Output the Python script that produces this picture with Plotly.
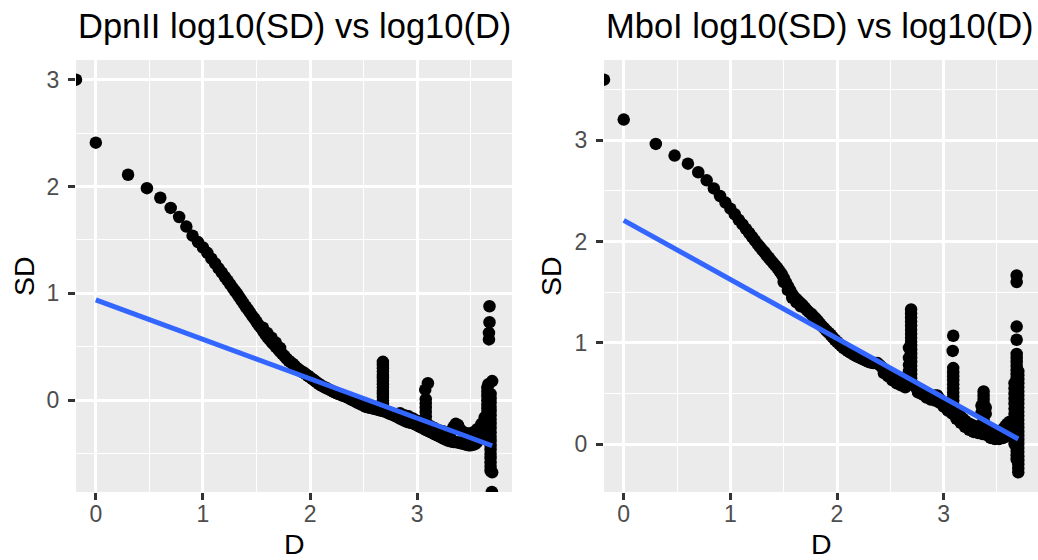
import plotly.graph_objects as go

NEG_INF = float("-inf")

# ---------------- data: DpnII (log10 D, log10 SD) ----------------
dpn_sparse_x = [NEG_INF, 0.000, 0.301, 0.477, 0.602, 0.699, 0.778, 0.845, 0.903, 0.954,
                1.000, 1.041, 1.079, 1.114, 1.146, 1.176, 1.204, 1.230, 1.255, 1.279, 1.301]
dpn_sparse_y = [3.00, 2.41, 2.11, 1.985, 1.895, 1.80, 1.715, 1.625, 1.54, 1.48,
                1.43, 1.38, 1.325, 1.28, 1.235, 1.195, 1.155, 1.12, 1.085, 1.05, 1.02]

dpn_band_x = [1.32, 1.34, 1.36, 1.38, 1.40, 1.42, 1.44, 1.46, 1.48, 1.50, 1.52, 1.54, 1.56, 1.58,
              1.60, 1.62, 1.64, 1.66, 1.68, 1.70, 1.72, 1.74, 1.76, 1.78, 1.80, 1.82, 1.84, 1.86,
              1.88, 1.90, 1.92, 1.94, 1.96, 1.98, 2.00, 2.02, 2.04, 2.06, 2.08, 2.10, 2.12, 2.14,
              2.16, 2.18, 2.20, 2.22, 2.24, 2.26, 2.28, 2.30, 2.32, 2.34, 2.36, 2.38, 2.40, 2.42,
              2.44, 2.46, 2.48, 2.50, 2.52, 2.54, 2.56, 2.58, 2.60, 2.62, 2.64, 2.66, 2.68, 2.70,
              2.72, 2.74, 2.76, 2.78, 2.80, 2.82, 2.84, 2.86, 2.88, 2.90, 2.92, 2.94, 2.96, 2.98,
              3.00, 3.02, 3.04, 3.06, 3.08, 3.10, 3.12, 3.14, 3.16, 3.18, 3.20, 3.22, 3.24, 3.26,
              3.28, 3.30, 3.32, 3.34, 3.36, 3.38, 3.40, 3.42, 3.44, 3.46, 3.48, 3.50, 3.52, 3.54,
              3.56, 3.58, 3.60, 3.62]
dpn_band_y = [0.995, 0.965, 0.935, 0.905, 0.875, 0.85, 0.82, 0.79, 0.765, 0.735, 0.705, 0.68, 0.65, 0.62,
              0.595, 0.57, 0.545, 0.525, 0.50, 0.48, 0.455, 0.435, 0.415, 0.39, 0.37, 0.355, 0.34, 0.32,
              0.30, 0.285, 0.27, 0.26, 0.245, 0.23, 0.215, 0.20, 0.185, 0.17, 0.155, 0.14, 0.13, 0.12,
              0.11, 0.10, 0.09, 0.08, 0.07, 0.06, 0.055, 0.045, 0.04, 0.03, 0.02, 0.01, 0.0, -0.01,
              -0.02, -0.03, -0.04, -0.05, -0.06, -0.065, -0.07, -0.075, -0.08, -0.085, -0.09, -0.095, -0.10, -0.105,
              -0.115, -0.125, -0.13, -0.14, -0.15, -0.16, -0.17, -0.18, -0.19, -0.20, -0.205, -0.21, -0.215, -0.225,
              -0.235, -0.245, -0.255, -0.265, -0.275, -0.285, -0.295, -0.305, -0.315, -0.325, -0.335, -0.345, -0.355, -0.365,
              -0.375, -0.38, -0.385, -0.39, -0.39, -0.395, -0.40, -0.405, -0.41, -0.415, -0.42, -0.42, -0.415, -0.41,
              -0.39, -0.36, -0.32, -0.28]

dpn_upper_x = [1.56, 1.60, 1.64, 1.68, 1.72, 2.84, 2.88, 2.92, 2.96, 3.00, 3.04, 3.08, 3.12, 3.16,
               3.20, 3.24, 3.28, 3.32, 3.34, 3.36, 3.38, 3.40, 3.44, 3.48, 3.52, 3.56, 3.60, 3.63]
dpn_upper_y = [0.68, 0.63, 0.585, 0.54, 0.49, -0.12, -0.14, -0.15, -0.17, -0.19, -0.21, -0.22, -0.24, -0.26,
               -0.28, -0.29, -0.30, -0.29, -0.25, -0.22, -0.23, -0.27, -0.30, -0.31, -0.30, -0.27, -0.22, -0.16]

dpn_spike_x = [2.68, 2.68, 2.68, 2.68, 2.68, 2.68, 2.68, 2.68, 2.68, 2.68, 2.68, 2.68, 2.68, 2.68, 2.68,
               3.10, 3.075, 3.08, 3.08, 3.08, 3.08, 3.08, 3.08]
dpn_spike_y = [0.36, 0.33, 0.30, 0.27, 0.24, 0.21, 0.18, 0.15, 0.12, 0.09, 0.06, 0.03, 0.0, -0.03, -0.06,
               0.16, 0.10, 0.01, -0.03, -0.07, -0.11, -0.15, -0.19]

dpn_column_x = [3.675, 3.675, 3.67, 3.67, 3.70, 3.665,
                3.655, 3.655, 3.655, 3.655, 3.655, 3.655, 3.655, 3.655, 3.655, 3.655, 3.655, 3.655, 3.655,
                3.685, 3.685, 3.685, 3.685, 3.685, 3.685, 3.685, 3.685, 3.685, 3.685, 3.685, 3.685, 3.685,
                3.685, 3.685, 3.685, 3.685, 3.685, 3.685, 3.70, 3.697]
dpn_column_y = [0.88, 0.73, 0.63, 0.57, 0.18, 0.15,
                0.12, 0.08, 0.04, 0.0, -0.04, -0.08, -0.12, -0.16, -0.20, -0.24, -0.28, -0.32, -0.36,
                0.06, 0.02, -0.02, -0.06, -0.10, -0.14, -0.18, -0.22, -0.26, -0.30, -0.34, -0.38, -0.42,
                -0.46, -0.50, -0.54, -0.58, -0.62, -0.66, -0.674, NEG_INF]

dpn_fit_x = [0.0, 3.70]
dpn_fit_y = [0.94, -0.425]

# ---------------- data: MboI (log10 D, log10 SD) ----------------
mbo_sparse_x = [NEG_INF, 0.000, 0.301, 0.477, 0.602, 0.699, 0.778, 0.845, 0.903, 0.954,
                1.000, 1.041, 1.079, 1.114, 1.146, 1.176, 1.204, 1.230, 1.255, 1.279, 1.301]
mbo_sparse_y = [3.60, 3.205, 2.965, 2.85, 2.77, 2.685, 2.605, 2.525, 2.45, 2.385,
                2.325, 2.27, 2.215, 2.17, 2.125, 2.085, 2.045, 2.01, 1.975, 1.945, 1.915]

mbo_band_x = dpn_band_x
mbo_band_y = [1.895, 1.865, 1.84, 1.815, 1.79, 1.765, 1.74, 1.71, 1.68, 1.64, 1.60, 1.56, 1.52, 1.48,
              1.45, 1.43, 1.41, 1.39, 1.37, 1.345, 1.32, 1.30, 1.285, 1.26, 1.24, 1.215, 1.19, 1.165,
              1.145, 1.12, 1.10, 1.08, 1.055, 1.03, 1.01, 0.99, 0.97, 0.95, 0.935, 0.92, 0.905, 0.895,
              0.88, 0.87, 0.86, 0.85, 0.84, 0.83, 0.82, 0.81, 0.805, 0.80, 0.80, 0.80, 0.78, 0.76,
              0.74, 0.72, 0.705, 0.69, 0.67, 0.655, 0.64, 0.625, 0.615, 0.60, 0.59, 0.60, 0.61, 0.60,
              0.58, 0.56, 0.55, 0.54, 0.53, 0.515, 0.50, 0.485, 0.47, 0.47, 0.48, 0.48, 0.45, 0.42,
              0.40, 0.38, 0.36, 0.35, 0.34, 0.33, 0.31, 0.29, 0.27, 0.25, 0.23, 0.21, 0.20, 0.19,
              0.18, 0.17, 0.16, 0.17, 0.19, 0.20, 0.18, 0.14, 0.11, 0.09, 0.08, 0.09, 0.11, 0.13,
              0.15, 0.18, 0.20, 0.22]

mbo_lower_x = [1.50, 1.54, 1.58, 1.62, 1.66, 2.44, 2.48, 2.52, 2.56, 2.60, 2.64, 2.76, 2.80, 2.84,
               2.88, 2.92, 2.96, 3.00, 3.04, 3.08, 3.12, 3.16, 3.20, 3.24, 3.28, 3.32, 3.36, 3.40,
               3.44, 3.48, 3.52, 3.56, 3.60]
mbo_lower_y = [1.60, 1.52, 1.445, 1.40, 1.36, 0.70, 0.67, 0.63, 0.60, 0.58, 0.56, 0.51, 0.49, 0.46,
               0.44, 0.43, 0.41, 0.37, 0.33, 0.30, 0.25, 0.21, 0.17, 0.14, 0.12, 0.11, 0.10, 0.09,
               0.06, 0.05, 0.05, 0.06, 0.08]

mbo_spike_x = [2.695, 2.695, 2.695, 2.695, 2.695, 2.695, 2.695, 2.695, 2.695, 2.695, 2.695, 2.695,
               2.695, 2.695, 2.695, 2.695, 2.695, 2.695, 2.675, 2.675, 2.675, 2.675,
               3.09, 3.085, 3.09, 3.09, 3.09, 3.09, 3.09, 3.09, 3.09, 3.09, 3.09, 3.09,
               3.375, 3.375, 3.375, 3.375, 3.375, 3.375, 3.375, 3.375, 3.355, 3.355, 3.395, 3.395]
mbo_spike_y = [1.33, 1.29, 1.25, 1.21, 1.17, 1.13, 1.09, 1.05, 1.01, 0.97, 0.93, 0.89,
               0.85, 0.81, 0.77, 0.73, 0.69, 0.65, 0.95, 0.85, 0.78, 0.72,
               1.07, 0.92, 0.75, 0.71, 0.67, 0.63, 0.59, 0.55, 0.51, 0.47, 0.43, 0.39,
               0.52, 0.48, 0.44, 0.40, 0.36, 0.32, 0.28, 0.24, 0.38, 0.31, 0.36, 0.30]

mbo_column_x = [3.685, 3.685, 3.685, 3.685,
                3.685, 3.685, 3.685, 3.685, 3.685, 3.685, 3.685, 3.685, 3.685, 3.685, 3.685, 3.685, 3.685, 3.685,
                3.685, 3.685, 3.685, 3.685, 3.685, 3.685, 3.685, 3.685, 3.685, 3.685, 3.685, 3.685, 3.685,
                3.70, 3.70, 3.70, 3.70, 3.70, 3.70, 3.70, 3.70, 3.70, 3.70, 3.70, 3.70, 3.70,
                3.70, 3.70, 3.70, 3.70, 3.70, 3.70, 3.70, 3.70, 3.70, 3.70, 3.70, 3.70, 3.70,
                3.665, 3.665, 3.665, 3.665, 3.665, 3.665, 3.665, 3.665, 3.665, 3.665, 3.665, 3.665, 3.665]
mbo_column_y = [1.665, 1.60, 1.16, 1.03,
                0.89, 0.85, 0.81, 0.77, 0.73, 0.69, 0.65, 0.61, 0.57, 0.53, 0.49, 0.45, 0.41, 0.37,
                0.33, 0.29, 0.25, 0.21, 0.17, 0.13, 0.09, 0.05, 0.01, -0.03, -0.07, -0.11, -0.15,
                0.72, 0.68, 0.64, 0.60, 0.56, 0.52, 0.48, 0.44, 0.40, 0.36, 0.32, 0.28, 0.24,
                0.20, 0.16, 0.12, 0.08, 0.04, 0.0, -0.04, -0.08, -0.12, -0.16, -0.20, -0.24, -0.28,
                0.60, 0.55, 0.50, 0.45, 0.40, 0.35, 0.30, 0.25, 0.20, 0.15, 0.10, 0.05, 0.0]

mbo_fit_x = [0.0, 3.70]
mbo_fit_y = [2.21, 0.05]

titles = ["DpnII log10(SD) vs log10(D)", "MboI log10(SD) vs log10(D)"]
x_label = "D"
y_label = "SD"
tick_vals = [0, 1, 2, 3]

# ---------------- helpers ----------------
def gg_range(vals, mult=0.05):
    finite = [v for v in vals if v not in (NEG_INF, float("inf"))]
    lo, hi = min(finite), max(finite)
    pad = (hi - lo) * mult
    return [lo - pad, hi + pad]


def squish(vals, rng):
    # non-finite values are drawn at the panel edge (as ggplot does)
    return [rng[0] if v == NEG_INF else v for v in vals]


panels = [
    dict(x=dpn_sparse_x + dpn_band_x + dpn_upper_x + dpn_spike_x + dpn_column_x,
         y=dpn_sparse_y + dpn_band_y + dpn_upper_y + dpn_spike_y + dpn_column_y,
         fx=dpn_fit_x, fy=dpn_fit_y),
    dict(x=mbo_sparse_x + mbo_band_x + mbo_lower_x + mbo_spike_x + mbo_column_x,
         y=mbo_sparse_y + mbo_band_y + mbo_lower_y + mbo_spike_y + mbo_column_y,
         fx=mbo_fit_x, fy=mbo_fit_y),
]

W, H = 1038, 560
FONT = "Liberation Sans, Arial, Helvetica, sans-serif"
x_domains = [[76 / W, 512 / W], [604 / W, 1.0]]
y_domain = [(H - 492) / H, (H - 60) / H]

fig = go.Figure()
layout = dict(
    width=W, height=H, margin=dict(l=0, r=0, t=0, b=0, autoexpand=False),
    paper_bgcolor="white", plot_bgcolor="#EBEBEB", showlegend=False,
    font=dict(family=FONT, color="black"),
)
annotations = []

for i, p in enumerate(panels):
    xr = gg_range(p["x"])
    yr = gg_range(p["y"])
    xs = squish(p["x"], xr)
    ys = squish(p["y"], yr)
    sfx = "" if i == 0 else str(i + 1)
    fig.add_trace(go.Scatter(
        x=xs, y=ys, mode="markers", xaxis="x" + sfx, yaxis="y" + sfx,
        marker=dict(color="black", size=12.5, line=dict(width=0)), cliponaxis=True,
        hoverinfo="skip"))
    fig.add_trace(go.Scatter(
        x=p["fx"], y=p["fy"], mode="lines", xaxis="x" + sfx, yaxis="y" + sfx,
        line=dict(color="#3366FF", width=5), hoverinfo="skip"))

    common = dict(
        tickmode="array", tickvals=tick_vals, ticks="outside", ticklen=7, tickwidth=2.7,
        tickcolor="#333333", tickfont=dict(size=23, color="#4D4D4D", family=FONT),
        showgrid=True, gridcolor="white", gridwidth=2.7, zeroline=False, showline=False,
        minor=dict(dtick=0.5, tick0=0, showgrid=True, gridcolor="white", gridwidth=1.4, ticks=""),
        automargin=False, fixedrange=True,
    )
    layout["xaxis" + sfx] = dict(common, domain=x_domains[i], range=xr,
                                 anchor="y" + sfx, ticklabelstandoff=-6)
    layout["yaxis" + sfx] = dict(common, domain=y_domain, range=yr,
                                 anchor="x" + sfx, ticklabelstandoff=4)

    x0, x1 = x_domains[i]
    annotations.append(dict(text=titles[i], x=x0, y=(H - 26) / H, xref="paper", yref="paper",
                            xanchor="left", yanchor="middle", showarrow=False,
                            font=dict(size=34.5, color="black", family=FONT)))
    annotations.append(dict(text=x_label, x=(x0 + x1) / 2, y=(H - 544) / H, xref="paper",
                            yref="paper", xanchor="center", yanchor="middle", showarrow=False,
                            font=dict(size=28.5, color="black", family=FONT)))
    annotations.append(dict(text=y_label, x=(24 if i == 0 else 551) / W,
                            y=(y_domain[0] + y_domain[1]) / 2, xref="paper", yref="paper",
                            xanchor="center", yanchor="middle", textangle=-90, showarrow=False,
                            font=dict(size=28.5, color="black", family=FONT)))

layout["annotations"] = annotations
fig.update_layout(**layout)
fig.write_html("out.html")
